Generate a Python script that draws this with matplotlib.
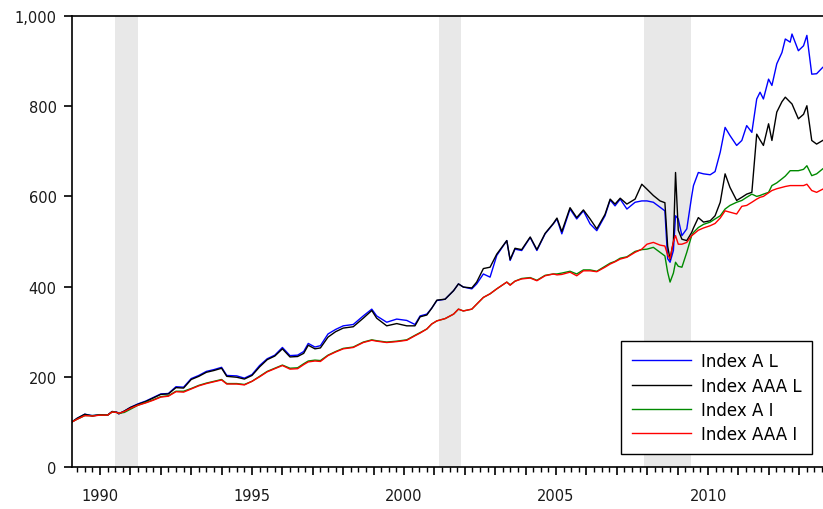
import matplotlib
matplotlib.use("Agg")
import matplotlib.pyplot as plt
from matplotlib.ticker import FixedLocator, FuncFormatter

# time axis in decimal years
dates = [
    1989.08, 1989.25, 1989.50, 1989.75, 1990.00, 1990.25, 1990.40, 1990.55, 1990.62, 1990.80,
    1991.00, 1991.25, 1991.50, 1991.75, 1992.00, 1992.25, 1992.50, 1992.75, 1993.00, 1993.25,
    1993.50, 1993.75, 1994.00, 1994.17, 1994.50, 1994.75, 1995.00, 1995.25, 1995.50, 1995.75,
    1996.00, 1996.25, 1996.50, 1996.70, 1996.85, 1997.07, 1997.25, 1997.50, 1997.75, 1998.00,
    1998.33, 1998.66, 1998.94, 1999.10, 1999.43, 1999.76, 2000.09, 2000.36, 2000.53, 2000.75,
    2000.91, 2001.08, 2001.35, 2001.63, 2001.79, 2001.95, 2002.23, 2002.39, 2002.61, 2002.83,
    2003.05, 2003.38, 2003.49, 2003.65, 2003.87, 2004.15, 2004.37, 2004.64, 2004.91, 2005.03,
    2005.19, 2005.46, 2005.68, 2005.90, 2006.12, 2006.34, 2006.61, 2006.78, 2006.94, 2007.11,
    2007.33, 2007.60, 2007.82, 2007.99, 2008.20, 2008.42, 2008.58, 2008.67, 2008.75, 2008.86,
    2008.93, 2009.02, 2009.14, 2009.30, 2009.46, 2009.52, 2009.68, 2009.85, 2010.07, 2010.23,
    2010.40, 2010.56, 2010.72, 2010.94, 2011.11, 2011.27, 2011.44, 2011.60, 2011.71, 2011.82,
    2011.99, 2012.10, 2012.26, 2012.43, 2012.54, 2012.70, 2012.76, 2012.97, 2013.14, 2013.25,
    2013.41, 2013.57, 2013.77,
]

index_a_l = [
    100, 108, 117, 114, 116, 115, 123, 122, 118, 124,
    132, 140, 146, 154, 162, 163, 178, 177, 196, 203,
    212, 216, 221, 203, 202, 197, 205, 225, 240, 248,
    265, 247, 248, 256, 274, 266, 269, 295, 305, 313,
    316, 335, 350, 335, 321, 328, 325, 316, 335, 339,
    352, 369, 372, 391, 406, 399, 395, 406, 428, 421,
    469, 502, 458, 483, 480, 509, 480, 517, 539, 550,
    517, 572, 550, 568, 539, 524, 557, 592, 579, 594,
    572, 587, 590, 590, 587, 576, 568, 462, 454, 480,
    557, 550, 513, 528, 600, 624, 653, 650, 648, 655,
    698, 753, 735, 713, 724, 757, 742, 816, 831, 816,
    860, 846, 894, 919, 949, 942, 960, 923, 934, 957,
    871, 872, 886,
]

index_aaa_l = [
    100, 108, 117, 113, 116, 115, 123, 121, 118, 124,
    132, 139, 145, 153, 161, 162, 176, 175, 194, 201,
    210, 214, 219, 201, 199, 195, 203, 222, 238, 246,
    262, 244, 245, 252, 270, 262, 264, 288, 300, 308,
    311, 330, 347, 330, 313, 318, 313, 313, 333, 337,
    352, 370, 372, 391, 406, 399, 397, 410, 440, 443,
    472, 502, 460, 485, 482, 510, 482, 518, 540, 552,
    522, 575, 553, 570, 550, 528, 560, 594, 583, 596,
    583, 594, 627, 616, 602, 590, 586, 490, 460, 500,
    653, 525, 505, 502, 520, 530, 553, 543, 546, 557,
    587, 650, 620, 591, 598, 605, 609, 738, 725, 713,
    761, 724, 787, 810, 820, 809, 805, 772, 782, 801,
    724, 716, 724,
]

index_a_i = [
    100, 106, 114, 114, 115, 115, 122, 121, 119, 121,
    128, 137, 143, 149, 156, 158, 168, 168, 174, 181,
    186, 190, 194, 185, 185, 183, 190, 201, 212, 219,
    226, 219, 220, 229, 235, 237, 236, 248, 256, 263,
    266, 277, 282, 280, 277, 279, 282, 292, 298, 306,
    317, 324, 329, 339, 350, 346, 350, 361, 376, 384,
    395, 410, 404, 412, 418, 420, 414, 425, 428, 428,
    430, 434, 428, 437, 437, 434, 445, 452, 456, 463,
    466, 478, 482, 483, 487, 476, 468, 432, 410, 430,
    454, 445, 443, 476, 513, 520, 531, 538, 543, 550,
    557, 572, 580, 587, 591, 598, 605, 600, 602, 605,
    609, 624, 630, 639, 645, 657, 657, 657, 660, 668,
    646, 650, 661,
]

index_aaa_i = [
    100, 106, 114, 113, 115, 115, 122, 121, 119, 123,
    130, 137, 142, 148, 155, 157, 167, 166, 173, 180,
    185, 189, 193, 184, 184, 182, 190, 200, 211, 218,
    225, 217, 218, 227, 233, 235, 234, 247, 255, 262,
    265, 276, 281, 279, 276, 278, 281, 291, 297, 306,
    317, 324, 329, 339, 350, 346, 350, 361, 376, 384,
    395, 410, 403, 412, 417, 419, 413, 424, 428, 426,
    427, 432, 424, 435, 435, 433, 443, 450, 455, 461,
    465, 476, 483, 494, 498, 492, 490, 470, 462, 500,
    513, 494, 494, 498, 513, 516, 525, 530, 535, 540,
    552, 568, 565, 561, 578, 580, 587, 594, 598, 600,
    608, 613, 617, 620, 622, 624, 624, 624, 624, 627,
    613, 609, 616,
]

recessions = [(1990.5, 1991.25), (2001.16, 2001.88), (2007.9, 2009.45)]

series = [
    ("Index A L", index_a_l, "#0000ff"),
    ("Index AAA L", index_aaa_l, "#000000"),
    ("Index A I", index_a_i, "#008a00"),
    ("Index AAA I", index_aaa_i, "#ff0000"),
]

plt.rcParams["font.family"] = "DejaVu Sans"
plt.rcParams["font.size"] = 10.5

fig = plt.figure(figsize=(8.23, 5.10), dpi=100)
ax = fig.add_axes([72 / 823, 42 / 510, 751 / 823, 451 / 510])

for start, end in recessions:
    ax.axvspan(start, end, color="#e8e8e8", lw=0, zorder=0)

for label, values, color in series:
    ax.plot(dates, values, color=color, lw=1.0, label=label)

ax.set_xlim(1989.08, 2013.78)
ax.set_ylim(0, 1000)

# year ticks, labels every five years, quarterly minor ticks
years = list(range(1990, 2014))
ax.xaxis.set_major_locator(FixedLocator(years))
ax.xaxis.set_major_formatter(
    FuncFormatter(lambda v, pos: f"{int(round(v))}" if int(round(v)) % 5 == 0 else "")
)
quarters = [y + q / 4 for y in range(1989, 2014) for q in (1, 2, 3)]
ax.xaxis.set_minor_locator(FixedLocator(quarters))

ax.yaxis.set_major_locator(FixedLocator([0, 200, 400, 600, 800, 1000]))
ax.yaxis.set_major_formatter(FuncFormatter(lambda v, pos: f"{int(v):,}"))

ax.tick_params(axis="both", which="major", direction="out", length=6, width=1.2,
               colors="black", labelcolor="#1a1a1a", pad=5)
ax.tick_params(axis="x", which="minor", direction="out", length=3.5, width=1.0)
ax.tick_params(axis="x", which="major", pad=9)

for side in ("left", "bottom", "top"):
    ax.spines[side].set_linewidth(1.2)
ax.spines["right"].set_visible(False)

leg = ax.legend(
    loc="lower right",
    bbox_to_anchor=(0.9854, 0.0288),
    borderaxespad=0,
    frameon=True,
    fancybox=False,
    framealpha=1,
    edgecolor="black",
    fontsize=12,
    handlelength=3.5,
    labelspacing=0.38,
    borderpad=0.65,
    handletextpad=0.6,
)
leg.get_frame().set_linewidth(1.0)

fig.savefig("out.png", dpi=100)
